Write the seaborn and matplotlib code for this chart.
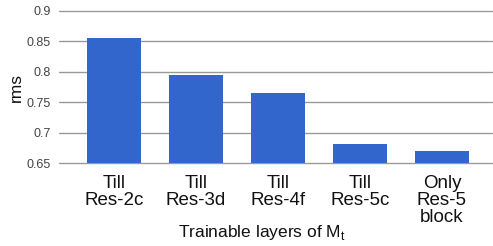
import matplotlib
matplotlib.use("Agg")
import matplotlib.pyplot as plt
import seaborn as sns
import pandas as pd

categories = ["Till\nRes-2c", "Till\nRes-3d", "Till\nRes-4f", "Till\nRes-5c", "Only\nRes-5\nblock"]
rms_values = [0.856, 0.795, 0.765, 0.681, 0.669]
y_ticks = [0.65, 0.7, 0.75, 0.8, 0.85, 0.9]
y_tick_labels = ["0.65", "0.7", "0.75", "0.8", "0.85", "0.9"]

sns.set_theme(style="white")
plt.rcParams["font.family"] = ["Liberation Sans", "DejaVu Sans"]

df = pd.DataFrame({"layers": categories, "rms": rms_values})

fig = plt.figure(figsize=(4.93, 2.46), dpi=100)
ax = fig.add_axes([59/493, 1-163/246, (492-59)/493, (163-11)/246])

sns.barplot(data=df, x="layers", y="rms", color="#3366cc", saturation=1,
            width=0.65, ax=ax, zorder=3, linewidth=0, edgecolor="none")

ax.set_ylim(0.65, 0.9)
ax.set_xlim(-0.671, 4.61)
ax.set_yticks(y_ticks)
ax.set_yticklabels(y_tick_labels, fontsize=9, color="#444444")
for v in y_ticks:
    ax.axhline(v, color="#999999", lw=1.0, zorder=1, clip_on=False)
for s in ax.spines.values():
    s.set_visible(False)
ax.tick_params(axis="both", length=0)
ax.tick_params(axis="y", pad=6)
ax.tick_params(axis="x", pad=9)
for lab in ax.get_xticklabels():
    lab.set_fontsize(13.5)
    lab.set_color("#111111")
    lab.set_linespacing(0.97)

ax.set_ylabel("rms", fontsize=12.5, color="#111111", labelpad=2)
ax.set_xlabel("Trainable layers of M$_\\mathregular{t}$", fontsize=12.5, color="#111111")
ax.xaxis.set_label_coords(0.469, -0.395)

fig.savefig("out.png", dpi=100)
